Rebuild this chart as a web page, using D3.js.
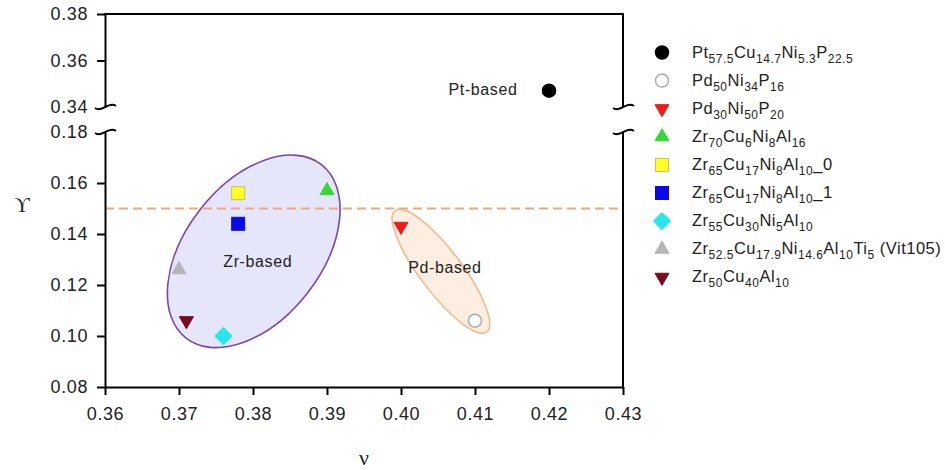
<!DOCTYPE html>
<html>
<head>
<meta charset="utf-8">
<script src="https://cdn.jsdelivr.net/npm/d3@7"></script>
<style>
  body { margin: 0; background: #fff; }
  svg { font-family: "Liberation Sans", Arial, sans-serif; }
  .tick text { font-size: 18px; fill: #222; letter-spacing: 0.6px; }
  .tick line, .domain { stroke: #000; stroke-width: 2; }
</style>
</head>
<body>
<svg width="945" height="470"></svg>
<script>
// alloy names, braces mark subscripts
const names = [
  "Pt{57.5}Cu{14.7}Ni{5.3}P{22.5}",
  "Pd{50}Ni{34}P{16}",
  "Pd{30}Ni{50}P{20}",
  "Zr{70}Cu{6}Ni{8}Al{16}",
  "Zr{65}Cu{17}Ni{8}Al{10}_0",
  "Zr{65}Cu{17}Ni{8}Al{10}_1",
  "Zr{55}Cu{30}Ni{5}Al{10}",
  "Zr{52.5}Cu{17.9}Ni{14.6}Al{10}Ti{5} (Vit105)",
  "Zr{50}Cu{40}Al{10}"
];
const nuValues = [0.420, 0.410, 0.400, 0.390, 0.378, 0.378, 0.376, 0.370, 0.371];
const upsValues = [0.347, 0.106, 0.143, 0.157, 0.156, 0.144, 0.100, 0.126, 0.106];

const xTicks = [0.36, 0.37, 0.38, 0.39, 0.40, 0.41, 0.42, 0.43];
const lowTicks = [0.08, 0.10, 0.12, 0.14, 0.16, 0.18];
const highTicks = [0.34, 0.36, 0.38];
const threshold = 0.15;

// groups drawn as ellipses: centre in data units
const groups = ["Zr-based", "Pd-based"];
const groupNu = [0.3801, 0.4054];
const groupUps = [0.1332, 0.1254];

const markers = [
  {shape: "circle", fill: "#000", stroke: "#000"},
  {shape: "circle", fill: "#fff", stroke: "#aaa"},
  {shape: "down", fill: "#ee1c1c", stroke: "#ee1c1c"},
  {shape: "up", fill: "#33d933", stroke: "#33d933"},
  {shape: "square", fill: "#ffff22", stroke: "#c8c060"},
  {shape: "square", fill: "#0a0ae6", stroke: "#0a0ae6"},
  {shape: "diamond", fill: "#26e6ee", stroke: "#26e6ee"},
  {shape: "up", fill: "#b5b5b8", stroke: "#b5b5b8"},
  {shape: "down", fill: "#7a0a1e", stroke: "#7a0a1e"}
];
const ellipseStyle = [
  {rx: 110, ry: 68, rot: -52, fill: "#e6e6fb", stroke: "#7e46a8"},
  {rx: 76, ry: 21, rot: 53, fill: "#fdeee2", stroke: "#f2b98c"}
];

const svg = d3.select("svg");
svg.append("rect").attr("width", 945).attr("height", 470).attr("fill", "#fff");

const x = d3.scaleLinear().domain([0.36, 0.43]).range([105, 623]);
const yLow = d3.scaleLinear().domain([0.08, 0.18]).range([387, 132]);
const yHigh = d3.scaleLinear().domain([0.34, 0.38]).range([107, 14]);
const y = v => v >= 0.34 ? yHigh(v) : yLow(v);
const fmt = d3.format(".2f");

// ellipses
const eg = svg.append("g");
groups.forEach((g, i) => {
  const s = ellipseStyle[i];
  eg.append("ellipse")
    .attr("transform", `translate(${x(groupNu[i])},${y(groupUps[i])}) rotate(${s.rot})`)
    .attr("rx", s.rx).attr("ry", s.ry)
    .attr("fill", s.fill).attr("stroke", s.stroke).attr("stroke-width", 1.6);
});

// threshold line
svg.append("line")
  .attr("x1", x(0.36)).attr("x2", x(0.43))
  .attr("y1", yLow(threshold)).attr("y2", yLow(threshold))
  .attr("stroke", "#f0a878").attr("stroke-width", 2).attr("stroke-dasharray", "9,5");

// axes
const bottom = svg.append("g").attr("transform", `translate(0,${yLow(0.08)})`)
  .call(d3.axisBottom(x).tickValues(xTicks).tickFormat(fmt).tickSize(8).tickSizeOuter(0).tickPadding(12));
const leftLow = svg.append("g").attr("transform", `translate(${x(0.36)},0)`)
  .call(d3.axisLeft(yLow).tickValues(lowTicks).tickFormat(fmt).tickSize(8).tickSizeOuter(0).tickPadding(9));
const leftHigh = svg.append("g").attr("transform", `translate(${x(0.36)},0)`)
  .call(d3.axisLeft(yHigh).tickValues(highTicks).tickFormat(fmt).tickSize(8).tickSizeOuter(0).tickPadding(9));
svg.selectAll(".tick text").attr("font-size", null);
[leftLow, leftHigh].forEach(a => a.selectAll(".tick").filter(d => d === 0.18 || d === 0.34).select("line").remove());
svg.selectAll(".domain").attr("stroke-width", 2);

const frame = svg.append("g").attr("stroke", "#000").attr("stroke-width", 2).attr("fill", "none");
frame.append("line").attr("x1", x(0.36) - 1).attr("x2", x(0.43) + 1).attr("y1", yHigh(0.38)).attr("y2", yHigh(0.38));
frame.append("line").attr("x1", x(0.43)).attr("x2", x(0.43)).attr("y1", yHigh(0.38)).attr("y2", yHigh(0.34));
frame.append("line").attr("x1", x(0.43)).attr("x2", x(0.43)).attr("y1", yLow(0.18)).attr("y2", yLow(0.08));

// break marks
function tilde(cx, cy) {
  return `M${cx - 10},${cy + 1} C${cx - 4},${cy + 6} ${cx + 4},${cy - 6} ${cx + 11},${cy - 1}`;
}
[[x(0.36), yHigh(0.34)], [x(0.36), yLow(0.18)], [x(0.43), yHigh(0.34)], [x(0.43), yLow(0.18)]]
  .forEach(p => frame.append("path").attr("d", tilde(p[0], p[1])).attr("stroke-width", 1.8));

// axis titles
svg.append("text").attr("x", 22).attr("y", 212).attr("text-anchor", "middle")
  .attr("font-family", "'Liberation Serif', 'DejaVu Serif', serif").attr("font-size", 21).attr("fill", "#222")
  .text("\u03D2");
svg.append("text").attr("x", 364).attr("y", 465).attr("text-anchor", "middle")
  .attr("font-family", "'Liberation Serif', 'DejaVu Serif', serif").attr("font-size", 22).attr("fill", "#222")
  .text("\u03BD");

// markers
function drawMarker(sel, m) {
  if (m.shape === "circle") {
    sel.append("circle").attr("r", 6.5).attr("fill", m.fill).attr("stroke", m.stroke).attr("stroke-width", 1.5);
  } else if (m.shape === "square") {
    sel.append("rect").attr("x", -6.5).attr("y", -6.5).attr("width", 13).attr("height", 13)
      .attr("fill", m.fill).attr("stroke", m.stroke).attr("stroke-width", 1);
  } else if (m.shape === "diamond") {
    sel.append("rect").attr("x", -6).attr("y", -6).attr("width", 12).attr("height", 12)
      .attr("transform", "rotate(45)").attr("fill", m.fill).attr("stroke", m.stroke).attr("stroke-width", 1);
  } else {
    sel.append("path").attr("d", d3.symbol(d3.symbolTriangle, 85)())
      .attr("transform", m.shape === "down" ? "rotate(180)" : null)
      .attr("fill", m.fill).attr("stroke", m.stroke).attr("stroke-width", 1);
  }
}

const pts = svg.append("g");
nuValues.forEach((v, i) => {
  const g = pts.append("g").attr("transform", `translate(${x(v)},${y(upsValues[i])})`);
  drawMarker(g, markers[i]);
});

// group labels
const labelStyle = sel => sel.attr("font-size", 16).attr("fill", "#222").attr("letter-spacing", 0.6).attr("text-anchor", "middle");
svg.append("text").attr("x", 483).attr("y", 95).text("Pt-based").call(labelStyle);
groups.forEach((g, i) => {
  svg.append("text").attr("x", x(groupNu[i]) + 4).attr("y", y(groupUps[i]) + (i === 0 ? 16 : 2)).text(g).call(labelStyle);
});

// legend
const legend = svg.append("g").attr("transform", "translate(662,52.5)");
names.forEach((n, i) => {
  const row = legend.append("g").attr("transform", `translate(0,${i * 28.1})`);
  drawMarker(row, markers[i]);
  const t = row.append("text").attr("x", 30).attr("y", 5).attr("font-size", 16.5).attr("fill", "#222").attr("letter-spacing", 0.5);
  const parts = n.split(/(\{[^}]*\})/).filter(s => s.length);
  let sub = false;
  parts.forEach(p => {
    if (p[0] === "{") {
      t.append("tspan").attr("dy", sub ? 0 : 5).attr("font-size", 12).text(p.slice(1, -1));
      sub = true;
    } else {
      t.append("tspan").attr("dy", sub ? -5 : 0).text(p);
      sub = false;
    }
  });
});
</script>
</body>
</html>
